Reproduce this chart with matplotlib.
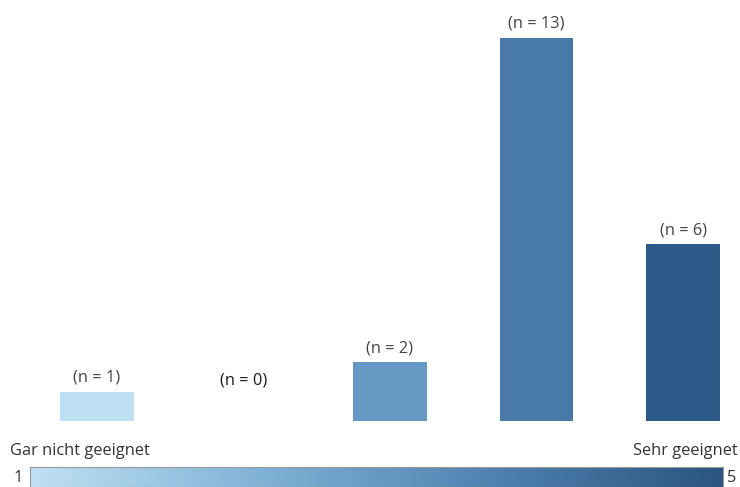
import numpy as np
import matplotlib.pyplot as plt
from matplotlib.colors import LinearSegmentedColormap

# Ratings 1..5 and number of responses per rating
ratings = [1, 2, 3, 4, 5]
counts = [1, 0, 2, 13, 6]
bar_colors = ["#bcdff1", "#8fbfdf", "#6699c3", "#4879a8", "#2c5a88"]
labels = [f"(n = {c})" for c in counts]
scale_low = "Gar nicht geeignet"
scale_high = "Sehr geeignet"

plt.rcParams['font.family'] = ['Open Sans', 'DejaVu Sans']
FS = 11.8

fig = plt.figure(figsize=(7.40, 4.87), dpi=100)
ax = fig.add_axes([0, 66 / 487, 1, 421 / 487])

x = np.arange(len(ratings))
ax.bar(x, counts, width=0.5, color=bar_colors)
for xi, c, lab in zip(x, counts, labels):
    if c == 0:
        ax.text(xi, 1.1, lab, ha="center", va="bottom", fontsize=FS,
                color="#1a1a1a", fontweight="medium")
    else:
        ax.text(xi, c + 0.2, lab, ha="center", va="bottom", fontsize=FS,
                color="#444444")

ax.set_xlim(-97 / 146.5, -97 / 146.5 + 740 / 146.5)
ax.set_ylim(0, 421 / 29.5)
ax.axis("off")

# Colour scale legend along the bottom
cmap = LinearSegmentedColormap.from_list("scale", ["#c0e1f3", "#80b2d6", "#4f82b0", "#2b5480"])
cax = fig.add_axes([30 / 740, 0, 693 / 740, 20 / 487])
cax.imshow(np.linspace(0, 1, 256)[None, :], aspect="auto", cmap=cmap)
cax.set_xticks([])
cax.set_yticks([])
for s in cax.spines.values():
    s.set_color("#999999")
    s.set_linewidth(0.8)

fig.text(10 / 740, 1 - 451 / 487, scale_low, ha="left", va="center",
         fontsize=FS, color="#333333")
fig.text(738 / 740, 1 - 451 / 487, scale_high, ha="right", va="center",
         fontsize=FS, color="#333333")
fig.text(13 / 740, 1 - 478 / 487, "1", ha="left", va="center",
         fontsize=FS, color="#333333")
fig.text(727 / 740, 1 - 478 / 487, "5", ha="left", va="center",
         fontsize=FS, color="#333333")

fig.savefig("out.png", dpi=100)
